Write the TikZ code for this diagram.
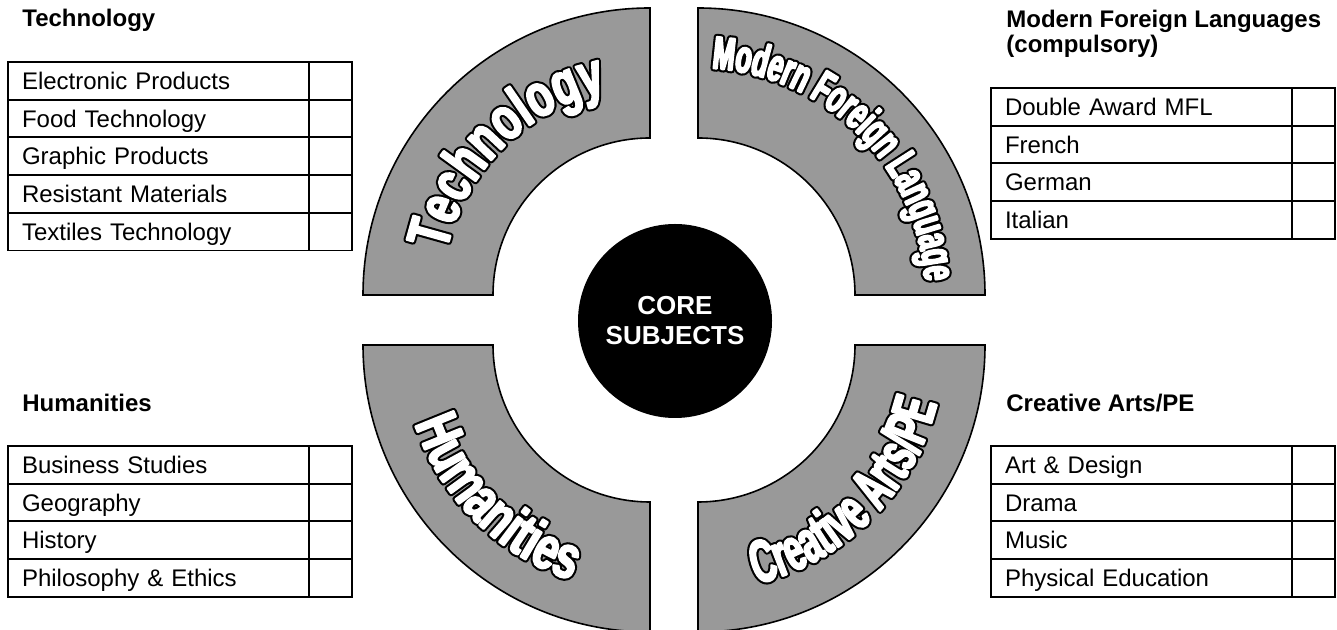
\documentclass[tikz,border=0pt]{standalone}
\usepackage{fontspec}
\setmainfont{Liberation Sans}
\newfontfamily\arcfont{Liberation Sans}[FakeStretch=0.71]
\newfontfamily\arcnarrowfont{Liberation Sans}[FakeStretch=0.57]
\usepackage{tikz}
\usetikzlibrary{decorations.text}
\definecolor{arcgray}{RGB}{153,153,153}
% 文字の縁取り (黒い下地と白い文字)
\newcommand\arcback{\color{black}\special{pdf:literal direct 0 G 1 j 3.1 w 2 Tr}}
\newcommand\arcfront{\color{white}\special{pdf:literal direct 1 G 1 j 1.0 w 2 Tr}}
\newcommand\arcwide{\arcfont\bfseries\fontsize{30}{30}\selectfont}
\newcommand\arcnarrow[1]{\arcnarrowfont\bfseries\fontsize{#1}{#1}\selectfont}
\tikzset{arc band/.style={fill=arcgray,draw=black,line width=0.8pt}}
\tikzset{arc label/.style 2 args={decorate,decoration={text along path,text align=center,text={|#1|#2}}}}
\tikzset{subject cell/.style={draw,line width=0.9pt,outer sep=0pt,anchor=north west,minimum height=18.85pt,text width=136.5pt,inner xsep=7pt,inner ysep=0pt,text height=8.6pt,text depth=0pt,font=\fontsize{12}{14}\selectfont}}
\tikzset{tick cell/.style={draw,line width=0.9pt,outer sep=0pt,anchor=north west,minimum height=18.85pt,minimum width=21.5pt,inner sep=0pt}}
\tikzset{group title/.style={anchor=base west,inner sep=0pt,align=left,font=\bfseries\fontsize{12}{12.5}\selectfont}}

\begin{document}
\begin{tikzpicture}[x=0.5pt,y=0.5pt]
          \useasboundingbox (0,0) rectangle (1337,630);
          \clip (0,0) rectangle (1337,630);

          %4つの扇形
          \filldraw[arc band] (650,335) ++(180:157) -- ++(180:130) arc[start angle=180, end angle=90, radius=287] -- ++(0,-130) arc[start angle=90, end angle=180, radius=157] -- cycle;
          \filldraw[arc band] (698,335) ++(90:157) -- ++(90:130) arc[start angle=90, end angle=0, radius=287] -- ++(-130,0) arc[start angle=0, end angle=90, radius=157] -- cycle;
          \filldraw[arc band] (650,285) ++(180:157) -- ++(180:130) arc[start angle=180, end angle=270, radius=287] -- ++(0,130) arc[start angle=270, end angle=180, radius=157] -- cycle;
          \filldraw[arc band] (698,285) ++(0:157) -- ++(0:130) arc[start angle=0, end angle=-90, radius=287] -- ++(0,130) arc[start angle=-90, end angle=0, radius=157] -- cycle;

          %扇形の文字 (下地を先に, 白を後に)
          \foreach \layer in {\arcback,\arcfront} {
            \path[arc label={\arcwide\layer}{Technology}]
              (650,335) ++(180:208) arc[start angle=180, end angle=90, radius=208];
            \path[arc label={\arcnarrow{23}\layer}{Modern Foreign Language}]
              (698,335) ++(90:227) arc[start angle=90, end angle=0, radius=227];
            \path[arc label={\arcwide\layer}{Humanities}]
              (650,285) ++(180:248) arc[start angle=180, end angle=270, radius=248];
            \path[arc label={\arcnarrow{30}\layer}{Creative Arts/PE}]
              (698,285) ++(270:246) arc[start angle=270, end angle=360, radius=246];
          }

          %中心の円
          \node[circle, fill=black, minimum size=97pt, text=white, align=center, font=\bfseries\fontsize{13}{15}\selectfont] (core) at (675,309) {CORE\\SUBJECTS};

          %Technologyの表
          \node[group title] (tech title) at (22,603) {Technology};
          \foreach \subj [count=\i] in {Electronic Products, Food Technology, Graphic Products, Resistant Materials, Textiles Technology} {
            \node[subject cell] (tech-\i) at (8,{568-37.7*(\i-1)}) {\subj};
            \node[tick cell] (tech-\i-tick) at (tech-\i.north east) {};
          }

          %Modern Foreign Languagesの表
          \node[group title] (mfl title) at (1006,577) {Modern Foreign Languages\\(compulsory)};
          \foreach \subj [count=\i] in {Double Award MFL, French, German, Italian} {
            \node[subject cell] (mfl-\i) at (991,{542-37.7*(\i-1)}) {\subj};
            \node[tick cell] (mfl-\i-tick) at (mfl-\i.north east) {};
          }

          %Humanitiesの表
          \node[group title] (hum title) at (22,218) {Humanities};
          \foreach \subj [count=\i] in {Business Studies, Geography, History, Philosophy \& Ethics} {
            \node[subject cell] (hum-\i) at (8,{184-37.7*(\i-1)}) {\subj};
            \node[tick cell] (hum-\i-tick) at (hum-\i.north east) {};
          }

          %Creative Arts/PEの表
          \node[group title] (arts title) at (1006,218) {Creative Arts/PE};
          \foreach \subj [count=\i] in {Art \& Design, Drama, Music, Physical Education} {
            \node[subject cell] (arts-\i) at (991,{184-37.7*(\i-1)}) {\subj};
            \node[tick cell] (arts-\i-tick) at (arts-\i.north east) {};
          }

        \end{tikzpicture}
\end{document}
